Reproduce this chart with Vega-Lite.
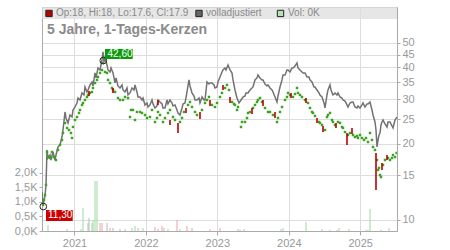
{
"$schema":"https://vega.github.io/schema/vega-lite/v6.json",
"width":355,"height":224,
"autosize":{"type":"none"},
"padding":{"left":42,"top":7,"right":53,"bottom":19},
"background":"#ffffff",
"config":{"font":"Liberation Sans","view":{"stroke":"#bbbbbb"},"axis":{"labelFont":"Liberation Sans","labelColor":"#999999","labelFontSize":11,"domainColor":"#aaaaaa","tickColor":"#aaaaaa","title":null}},
"datasets":{
"one":[{"k":1}],
"adj":[{"t":2020.545,"v":12.90},{"t":2020.559,"v":11.46},{"t":2020.573,"v":11.99},{"t":2020.587,"v":12.44},{"t":2020.601,"v":13.75},{"t":2020.615,"v":18.90},{"t":2020.629,"v":17.57},{"t":2020.657,"v":18.05},{"t":2020.671,"v":17.25},{"t":2020.699,"v":18.56},{"t":2020.727,"v":17.25},{"t":2020.741,"v":18.05},{"t":2020.769,"v":19.42},{"t":2020.797,"v":19.78},{"t":2020.825,"v":21.26},{"t":2020.839,"v":22.66},{"t":2020.867,"v":26.69},{"t":2020.881,"v":25.27},{"t":2020.909,"v":24.15},{"t":2020.937,"v":25.97},{"t":2020.965,"v":25.50},{"t":2020.979,"v":27.18},{"t":2021.007,"v":27.93},{"t":2021.035,"v":28.97},{"t":2021.049,"v":30.31},{"t":2021.077,"v":29.77},{"t":2021.105,"v":31.73},{"t":2021.133,"v":31.15},{"t":2021.147,"v":33.50},{"t":2021.175,"v":32.02},{"t":2021.189,"v":32.60},{"t":2021.217,"v":34.12},{"t":2021.245,"v":35.06},{"t":2021.259,"v":33.81},{"t":2021.287,"v":38.05},{"t":2021.301,"v":36.36},{"t":2021.329,"v":39.82},{"t":2021.357,"v":39.10},{"t":2021.385,"v":42.83},{"t":2021.399,"v":46.06},{"t":2021.413,"v":42.05},{"t":2021.427,"v":43.61},{"t":2021.455,"v":40.92},{"t":2021.469,"v":39.10},{"t":2021.497,"v":38.40},{"t":2021.511,"v":39.82},{"t":2021.539,"v":38.05},{"t":2021.567,"v":34.74},{"t":2021.581,"v":36.36},{"t":2021.609,"v":33.81},{"t":2021.637,"v":33.20},{"t":2021.665,"v":34.12},{"t":2021.679,"v":32.60},{"t":2021.707,"v":32.02},{"t":2021.735,"v":33.20},{"t":2021.749,"v":31.15},{"t":2021.777,"v":31.73},{"t":2021.805,"v":33.20},{"t":2021.833,"v":32.60},{"t":2021.847,"v":34.12},{"t":2021.875,"v":32.02},{"t":2021.889,"v":30.59},{"t":2021.917,"v":30.59},{"t":2021.945,"v":29.77},{"t":2021.959,"v":30.31},{"t":2021.987,"v":28.45},{"t":2022.015,"v":28.97},{"t":2022.029,"v":27.93},{"t":2022.057,"v":28.45},{"t":2022.085,"v":29.77},{"t":2022.099,"v":28.71},{"t":2022.127,"v":27.68},{"t":2022.155,"v":28.19},{"t":2022.169,"v":29.77},{"t":2022.197,"v":29.23},{"t":2022.225,"v":28.71},{"t":2022.239,"v":27.68},{"t":2022.267,"v":27.68},{"t":2022.295,"v":29.77},{"t":2022.309,"v":28.71},{"t":2022.337,"v":29.77},{"t":2022.365,"v":28.97},{"t":2022.379,"v":28.19},{"t":2022.407,"v":28.45},{"t":2022.435,"v":27.18},{"t":2022.449,"v":26.45},{"t":2022.477,"v":25.97},{"t":2022.505,"v":27.68},{"t":2022.519,"v":28.71},{"t":2022.547,"v":28.97},{"t":2022.575,"v":32.02},{"t":2022.603,"v":35.71},{"t":2022.617,"v":33.81},{"t":2022.645,"v":31.73},{"t":2022.673,"v":30.87},{"t":2022.687,"v":29.77},{"t":2022.715,"v":29.77},{"t":2022.743,"v":30.31},{"t":2022.757,"v":28.97},{"t":2022.785,"v":30.59},{"t":2022.813,"v":29.77},{"t":2022.827,"v":29.77},{"t":2022.855,"v":35.06},{"t":2022.883,"v":34.43},{"t":2022.897,"v":34.74},{"t":2022.925,"v":34.74},{"t":2022.953,"v":34.12},{"t":2022.967,"v":33.20},{"t":2022.995,"v":33.50},{"t":2023.009,"v":35.06},{"t":2023.037,"v":36.69},{"t":2023.065,"v":38.40},{"t":2023.079,"v":39.10},{"t":2023.107,"v":39.82},{"t":2023.121,"v":39.10},{"t":2023.149,"v":40.92},{"t":2023.177,"v":39.10},{"t":2023.205,"v":38.05},{"t":2023.219,"v":35.71},{"t":2023.247,"v":32.60},{"t":2023.275,"v":30.31},{"t":2023.303,"v":28.97},{"t":2023.331,"v":29.77},{"t":2023.359,"v":30.59},{"t":2023.387,"v":30.87},{"t":2023.401,"v":31.73},{"t":2023.429,"v":31.73},{"t":2023.457,"v":32.60},{"t":2023.485,"v":33.20},{"t":2023.499,"v":33.50},{"t":2023.527,"v":35.71},{"t":2023.555,"v":36.36},{"t":2023.569,"v":37.36},{"t":2023.597,"v":36.36},{"t":2023.625,"v":35.71},{"t":2023.639,"v":35.71},{"t":2023.667,"v":34.43},{"t":2023.695,"v":33.81},{"t":2023.709,"v":34.12},{"t":2023.737,"v":33.20},{"t":2023.765,"v":32.60},{"t":2023.779,"v":32.02},{"t":2023.807,"v":30.59},{"t":2023.835,"v":29.23},{"t":2023.849,"v":30.87},{"t":2023.877,"v":33.50},{"t":2023.905,"v":35.71},{"t":2023.919,"v":37.36},{"t":2023.947,"v":37.36},{"t":2023.975,"v":39.10},{"t":2023.989,"v":39.10},{"t":2024.017,"v":38.40},{"t":2024.045,"v":39.82},{"t":2024.059,"v":39.82},{"t":2024.087,"v":40.55},{"t":2024.115,"v":41.67},{"t":2024.129,"v":39.82},{"t":2024.157,"v":39.10},{"t":2024.185,"v":38.40},{"t":2024.199,"v":38.05},{"t":2024.227,"v":38.05},{"t":2024.255,"v":36.69},{"t":2024.283,"v":36.69},{"t":2024.297,"v":35.71},{"t":2024.325,"v":35.06},{"t":2024.353,"v":33.50},{"t":2024.367,"v":33.50},{"t":2024.395,"v":32.60},{"t":2024.423,"v":31.73},{"t":2024.437,"v":31.15},{"t":2024.465,"v":30.59},{"t":2024.493,"v":28.97},{"t":2024.507,"v":27.68},{"t":2024.535,"v":31.15},{"t":2024.549,"v":32.60},{"t":2024.577,"v":34.12},{"t":2024.591,"v":32.60},{"t":2024.619,"v":31.15},{"t":2024.647,"v":31.73},{"t":2024.675,"v":31.15},{"t":2024.689,"v":31.73},{"t":2024.717,"v":30.59},{"t":2024.745,"v":30.31},{"t":2024.759,"v":29.77},{"t":2024.787,"v":29.50},{"t":2024.815,"v":28.45},{"t":2024.829,"v":27.93},{"t":2024.857,"v":28.97},{"t":2024.885,"v":29.23},{"t":2024.899,"v":29.23},{"t":2024.927,"v":27.93},{"t":2024.955,"v":27.68},{"t":2024.969,"v":28.19},{"t":2024.997,"v":27.68},{"t":2025.025,"v":28.45},{"t":2025.039,"v":28.97},{"t":2025.067,"v":27.93},{"t":2025.095,"v":28.71},{"t":2025.109,"v":28.71},{"t":2025.137,"v":29.23},{"t":2025.165,"v":27.18},{"t":2025.179,"v":25.97},{"t":2025.207,"v":24.37},{"t":2025.221,"v":22.66},{"t":2025.235,"v":19.42},{"t":2025.249,"v":20.70},{"t":2025.263,"v":21.65},{"t":2025.277,"v":22.05},{"t":2025.291,"v":23.72},{"t":2025.305,"v":24.37},{"t":2025.319,"v":24.82},{"t":2025.347,"v":23.93},{"t":2025.375,"v":23.29},{"t":2025.389,"v":24.37},{"t":2025.417,"v":24.37},{"t":2025.445,"v":23.50},{"t":2025.459,"v":23.08},{"t":2025.487,"v":24.82},{"t":2025.515,"v":25.50}],
"cnd":[{"t":2020.559,"v":11.46},{"t":2020.573,"v":11.99},{"t":2020.587,"v":12.55},{"t":2020.601,"v":13.75},{"t":2020.615,"v":18.56},{"t":2020.629,"v":17.72},{"t":2020.657,"v":17.57},{"t":2020.685,"v":18.56},{"t":2020.713,"v":17.72},{"t":2020.741,"v":17.25},{"t":2020.769,"v":18.90},{"t":2020.797,"v":19.78},{"t":2020.825,"v":20.70},{"t":2020.839,"v":22.05},{"t":2020.867,"v":24.15},{"t":2020.895,"v":23.08},{"t":2020.923,"v":22.66},{"t":2020.951,"v":22.05},{"t":2020.965,"v":21.07},{"t":2020.979,"v":23.29},{"t":2021.007,"v":24.82},{"t":2021.035,"v":25.50},{"t":2021.063,"v":26.45},{"t":2021.077,"v":27.18},{"t":2021.105,"v":28.45},{"t":2021.119,"v":28.97},{"t":2021.147,"v":29.77},{"t":2021.175,"v":30.59},{"t":2021.189,"v":31.15},{"t":2021.217,"v":31.73},{"t":2021.245,"v":32.02},{"t":2021.259,"v":33.20},{"t":2021.287,"v":34.74},{"t":2021.315,"v":35.71},{"t":2021.329,"v":36.69},{"t":2021.357,"v":38.05},{"t":2021.385,"v":39.10},{"t":2021.399,"v":41.67},{"t":2021.427,"v":38.40},{"t":2021.455,"v":38.05},{"t":2021.469,"v":35.71},{"t":2021.497,"v":34.74},{"t":2021.525,"v":33.20},{"t":2021.539,"v":32.60},{"t":2021.567,"v":32.02},{"t":2021.609,"v":30.31},{"t":2021.637,"v":29.77},{"t":2021.679,"v":29.77},{"t":2021.707,"v":30.59},{"t":2021.749,"v":30.31},{"t":2021.777,"v":25.50},{"t":2021.791,"v":27.18},{"t":2021.819,"v":27.18},{"t":2021.847,"v":24.82},{"t":2021.875,"v":26.69},{"t":2021.917,"v":26.69},{"t":2021.945,"v":26.45},{"t":2021.987,"v":25.97},{"t":2022.015,"v":25.27},{"t":2022.057,"v":25.50},{"t":2022.085,"v":27.18},{"t":2022.127,"v":24.37},{"t":2022.155,"v":25.27},{"t":2022.169,"v":26.69},{"t":2022.197,"v":25.97},{"t":2022.239,"v":24.37},{"t":2022.267,"v":25.27},{"t":2022.309,"v":26.45},{"t":2022.337,"v":27.18},{"t":2022.379,"v":25.50},{"t":2022.407,"v":24.82},{"t":2022.477,"v":24.37},{"t":2022.505,"v":25.27},{"t":2022.533,"v":26.69},{"t":2022.589,"v":28.45},{"t":2022.617,"v":29.23},{"t":2022.645,"v":27.93},{"t":2022.687,"v":26.69},{"t":2022.715,"v":25.97},{"t":2022.785,"v":27.18},{"t":2022.827,"v":28.97},{"t":2022.855,"v":29.77},{"t":2022.883,"v":30.59},{"t":2022.925,"v":28.45},{"t":2022.967,"v":27.93},{"t":2022.995,"v":28.97},{"t":2023.037,"v":30.59},{"t":2023.065,"v":31.73},{"t":2023.107,"v":33.20},{"t":2023.135,"v":34.12},{"t":2023.163,"v":32.60},{"t":2023.205,"v":29.23},{"t":2023.233,"v":28.71},{"t":2023.247,"v":28.45},{"t":2023.275,"v":27.18},{"t":2023.289,"v":27.93},{"t":2023.331,"v":23.29},{"t":2023.345,"v":24.37},{"t":2023.387,"v":24.37},{"t":2023.415,"v":25.27},{"t":2023.429,"v":26.45},{"t":2023.457,"v":26.69},{"t":2023.499,"v":27.68},{"t":2023.527,"v":28.45},{"t":2023.555,"v":29.23},{"t":2023.569,"v":29.77},{"t":2023.597,"v":30.31},{"t":2023.625,"v":29.23},{"t":2023.667,"v":27.68},{"t":2023.709,"v":26.69},{"t":2023.737,"v":26.69},{"t":2023.779,"v":25.97},{"t":2023.835,"v":24.37},{"t":2023.849,"v":25.27},{"t":2023.877,"v":26.69},{"t":2023.905,"v":27.93},{"t":2023.947,"v":29.77},{"t":2023.975,"v":30.59},{"t":2023.989,"v":31.73},{"t":2024.017,"v":31.15},{"t":2024.059,"v":30.59},{"t":2024.087,"v":31.44},{"t":2024.115,"v":33.20},{"t":2024.129,"v":31.73},{"t":2024.157,"v":31.15},{"t":2024.185,"v":30.59},{"t":2024.227,"v":29.77},{"t":2024.269,"v":28.97},{"t":2024.297,"v":27.68},{"t":2024.325,"v":26.69},{"t":2024.339,"v":26.45},{"t":2024.367,"v":25.74},{"t":2024.423,"v":24.37},{"t":2024.437,"v":24.15},{"t":2024.465,"v":23.72},{"t":2024.507,"v":22.66},{"t":2024.535,"v":25.50},{"t":2024.549,"v":25.97},{"t":2024.577,"v":26.45},{"t":2024.605,"v":24.82},{"t":2024.619,"v":24.37},{"t":2024.647,"v":23.72},{"t":2024.689,"v":24.37},{"t":2024.717,"v":24.15},{"t":2024.745,"v":23.29},{"t":2024.759,"v":23.08},{"t":2024.787,"v":22.25},{"t":2024.829,"v":21.65},{"t":2024.857,"v":22.05},{"t":2024.899,"v":21.65},{"t":2024.927,"v":21.26},{"t":2024.955,"v":21.46},{"t":2024.969,"v":21.07},{"t":2024.997,"v":21.65},{"t":2025.025,"v":21.07},{"t":2025.053,"v":20.70},{"t":2025.081,"v":21.07},{"t":2025.109,"v":20.32},{"t":2025.137,"v":22.05},{"t":2025.165,"v":20.70},{"t":2025.179,"v":19.42},{"t":2025.207,"v":18.90},{"t":2025.235,"v":17.25},{"t":2025.249,"v":15.76},{"t":2025.263,"v":16.05},{"t":2025.277,"v":15.05},{"t":2025.291,"v":14.78},{"t":2025.319,"v":16.49},{"t":2025.347,"v":17.25},{"t":2025.389,"v":17.57},{"t":2025.417,"v":17.25},{"t":2025.445,"v":17.57},{"t":2025.459,"v":18.05},{"t":2025.487,"v":17.72},{"t":2025.510,"v":18.38}],
"red":[{"t":2021.203,"hi":32.31,"lo":30.87},{"t":2021.539,"hi":33.20,"lo":31.73},{"t":2022.169,"hi":29.77,"lo":28.45},{"t":2022.337,"hi":24.82,"lo":23.72},{"t":2022.449,"hi":24.15,"lo":22.05},{"t":2022.561,"hi":27.68,"lo":26.45},{"t":2022.757,"hi":26.69,"lo":25.04},{"t":2022.897,"hi":29.77,"lo":28.19},{"t":2023.079,"hi":34.12,"lo":32.60},{"t":2023.177,"hi":30.59,"lo":28.97},{"t":2023.485,"hi":27.68,"lo":26.21},{"t":2023.639,"hi":29.77,"lo":28.19},{"t":2023.807,"hi":26.69,"lo":25.27},{"t":2024.031,"hi":31.73,"lo":30.31},{"t":2024.241,"hi":30.31,"lo":28.97},{"t":2024.395,"hi":25.27,"lo":24.15},{"t":2024.479,"hi":23.50,"lo":22.25},{"t":2024.661,"hi":24.15,"lo":23.08},{"t":2024.815,"hi":22.05,"lo":19.78},{"t":2024.885,"hi":23.08,"lo":21.85},{"t":2025.221,"hi":18.38,"lo":13.14},{"t":2025.305,"hi":16.79,"lo":15.76},{"t":2025.375,"hi":18.05,"lo":17.25}],
"vol":[{"t":2020.629,"vol":207,"c":"g"},{"t":2020.895,"vol":69,"c":"g"},{"t":2021.091,"vol":69,"c":"g"},{"t":2021.119,"vol":793,"c":"g"},{"t":2021.189,"vol":276,"c":"n"},{"t":2021.203,"vol":448,"c":"n"},{"t":2021.245,"vol":276,"c":"g"},{"t":2021.259,"vol":380,"c":"g"},{"t":2021.287,"vol":1724,"c":"g"},{"t":2021.315,"vol":1724,"c":"g"},{"t":2021.357,"vol":276,"c":"r"},{"t":2021.385,"vol":276,"c":"r"},{"t":2021.455,"vol":276,"c":"n"},{"t":2021.497,"vol":103,"c":"r"},{"t":2021.539,"vol":103,"c":"n"},{"t":2021.637,"vol":69,"c":"n"},{"t":2021.707,"vol":69,"c":"n"},{"t":2021.805,"vol":103,"c":"g"},{"t":2021.847,"vol":172,"c":"g"},{"t":2021.889,"vol":103,"c":"r"},{"t":2021.959,"vol":103,"c":"g"},{"t":2022.127,"vol":138,"c":"r"},{"t":2022.169,"vol":69,"c":"r"},{"t":2022.225,"vol":172,"c":"r"},{"t":2022.253,"vol":103,"c":"r"},{"t":2022.309,"vol":69,"c":"g"},{"t":2022.435,"vol":380,"c":"r"},{"t":2022.477,"vol":69,"c":"g"},{"t":2022.575,"vol":172,"c":"r"},{"t":2022.645,"vol":103,"c":"r"},{"t":2022.897,"vol":69,"c":"r"},{"t":2023.037,"vol":103,"c":"r"},{"t":2023.289,"vol":69,"c":"r"},{"t":2023.317,"vol":40,"c":"r"},{"t":2023.373,"vol":69,"c":"n"},{"t":2023.891,"vol":69,"c":"g"},{"t":2023.919,"vol":103,"c":"g"},{"t":2024.241,"vol":310,"c":"g"},{"t":2024.465,"vol":69,"c":"r"},{"t":2024.577,"vol":40,"c":"n"},{"t":2024.675,"vol":40,"c":"r"},{"t":2024.703,"vol":103,"c":"g"},{"t":2024.843,"vol":69,"c":"g"},{"t":2025.081,"vol":40,"c":"r"},{"t":2025.109,"vol":40,"c":"n"},{"t":2025.137,"vol":759,"c":"g"},{"t":2025.291,"vol":40,"c":"n"},{"t":2025.403,"vol":103,"c":"g"}],
"ann":[{"t":2021.403,"v":42.6},{"t":2020.563,"v":11.3}]
},
"layer":[
{"data":{"name":"vol"},"mark":{"type":"rule","strokeWidth":1,"clip":true},
 "encoding":{"x":{"field":"t","type":"quantitative","scale":{"domain":[2020.545,2025.515],"nice":false,"zero":false},"axis":{"values":[2021,2022,2023,2024,2025],"format":"d","grid":true,"gridColor":"#dddddd","tickSize":4,"labelPadding":2}},
  "y":{"field":"vol","type":"quantitative","scale":{"domain":[0,7724],"nice":false,"zero":true},"axis":{"orient":"left","values":[0,500,1000,1500,2000],"labelExpr":"replace(format(datum.value/1000,'.1f'),'.',',')+'K'","grid":false,"tickSize":3,"labelPadding":2}},
  "y2":{"datum":0},
  "color":{"field":"c","type":"nominal","scale":{"domain":["g","r","n"],"range":["#9fd89f","#eda3a8","#b8b8b8"]},"legend":null}}},
{"layer":[
 {"data":{"name":"one"},"mark":{"type":"rect","fill":"#dedede","opacity":0.75},
  "encoding":{"x":{"datum":2020.545,"type":"quantitative"},"x2":{"datum":2025.515},"y":{"datum":62.17,"type":"quantitative","scale":{"type":"log","domain":[9.048,69.3],"nice":false,"zero":false},"axis":{"orient":"right","values":[10,15,20,25,30,35,40,45,50],"format":"d","grid":true,"gridColor":"#dddddd","tickSize":3,"labelPadding":2}},"y2":{"datum":69.3}}},
 {"data":{"name":"adj"},"mark":{"type":"line","color":"#727272","strokeWidth":1.5,"clip":true},
  "encoding":{"x":{"field":"t","type":"quantitative"},"y":{"field":"v","type":"quantitative"}}},
 {"data":{"name":"cnd"},"mark":{"type":"point","shape":"square","filled":true,"size":6,"color":"#3aa320","opacity":1,"clip":true},
  "encoding":{"x":{"field":"t","type":"quantitative"},"y":{"field":"v","type":"quantitative"}}},
 {"data":{"name":"red"},"mark":{"type":"rule","color":"#b80000","strokeWidth":1.6,"clip":true},
  "encoding":{"x":{"field":"t","type":"quantitative"},"y":{"field":"hi","type":"quantitative"},"y2":{"field":"lo"}}},
 {"data":{"name":"ann"},"mark":{"type":"point","shape":"circle","filled":false,"stroke":"#222222","strokeWidth":1,"size":45,"opacity":1},
  "encoding":{"x":{"field":"t","type":"quantitative"},"y":{"field":"v","type":"quantitative"}}},
 {"data":{"name":"one"},"mark":{"type":"rect","fill":"#0b9a0b"},
  "encoding":{"x":{"datum":2021.427,"type":"quantitative"},"x2":{"datum":2021.815},"y":{"datum":43.21,"type":"quantitative"},"y2":{"datum":47.33}}},
 {"data":{"name":"one"},"mark":{"type":"text","text":"42,60","color":"#ffffff","fontSize":10,"align":"left","baseline":"middle"},
  "encoding":{"x":{"datum":2021.462,"type":"quantitative"},"y":{"datum":45.2,"type":"quantitative"}}},
 {"data":{"name":"one"},"mark":{"type":"rect","fill":"#cc0000"},
  "encoding":{"x":{"datum":2020.601,"type":"quantitative"},"x2":{"datum":2020.975},"y":{"datum":9.91,"type":"quantitative"},"y2":{"datum":10.95}}},
 {"data":{"name":"one"},"mark":{"type":"text","text":"11,30","color":"#ffffff","fontSize":10,"align":"left","baseline":"middle"},
  "encoding":{"x":{"datum":2020.629,"type":"quantitative"},"y":{"datum":10.42,"type":"quantitative"}}},
 {"data":{"name":"one"},"mark":{"type":"point","shape":"square","filled":true,"size":40,"color":"#bb0000","stroke":"#222222","strokeWidth":1,"opacity":1},
  "encoding":{"x":{"datum":2020.643,"type":"quantitative"},"y":{"datum":65.36,"type":"quantitative"}}},
 {"data":{"name":"one"},"mark":{"type":"text","text":"Op:18, Hi:18, Lo:17.6, Cl:17.9","color":"#8a8a8a","fontSize":10,"align":"left","baseline":"middle"},
  "encoding":{"x":{"datum":2020.741,"type":"quantitative"},"y":{"datum":65.36,"type":"quantitative"}}},
 {"data":{"name":"one"},"mark":{"type":"point","shape":"square","filled":true,"size":40,"color":"#666666","stroke":"#222222","strokeWidth":1,"opacity":1},
  "encoding":{"x":{"datum":2022.743,"type":"quantitative"},"y":{"datum":65.36,"type":"quantitative"}}},
 {"data":{"name":"one"},"mark":{"type":"text","text":"volladjustiert","color":"#8a8a8a","fontSize":10,"align":"left","baseline":"middle"},
  "encoding":{"x":{"datum":2022.841,"type":"quantitative"},"y":{"datum":65.36,"type":"quantitative"}}},
 {"data":{"name":"one"},"mark":{"type":"point","shape":"square","filled":true,"size":40,"color":"#b5e3b5","stroke":"#222222","strokeWidth":1,"opacity":1},
  "encoding":{"x":{"datum":2023.884,"type":"quantitative"},"y":{"datum":65.36,"type":"quantitative"}}},
 {"data":{"name":"one"},"mark":{"type":"text","text":"Vol: 0K","color":"#8a8a8a","fontSize":10,"align":"left","baseline":"middle"},
  "encoding":{"x":{"datum":2023.989,"type":"quantitative"},"y":{"datum":65.36,"type":"quantitative"}}},
 {"data":{"name":"one"},"mark":{"type":"text","text":"5 Jahre, 1-Tages-Kerzen","color":"#8a8a8a","fontSize":14,"fontWeight":"bold","align":"left","baseline":"middle"},
  "encoding":{"x":{"datum":2020.615,"type":"quantitative"},"y":{"datum":56.25,"type":"quantitative"}}}
 ]}
],
"resolve":{"scale":{"y":"independent"},"axis":{"y":"independent"}}
}
